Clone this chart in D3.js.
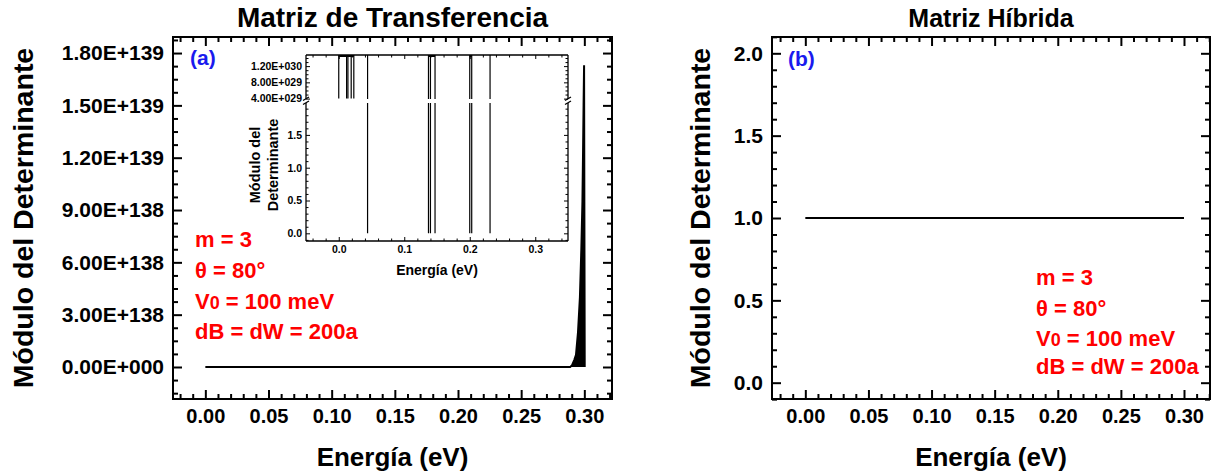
<!DOCTYPE html>
<html><head><meta charset="utf-8">
<script src="https://cdn.jsdelivr.net/npm/d3@7"></script>
<style>
html,body{margin:0;padding:0;background:#fff;}
svg{display:block;font-family:"Liberation Sans",Arial,sans-serif;font-weight:bold;}
</style></head><body>
<svg id="c" width="1213" height="475"></svg>
<script>
// ---------- data ----------
const titles = ["Matriz de Transferencia", "Matriz Híbrida"];
const panelLetters = ["(a)", "(b)"];
const xTitle = "Energía (eV)";
const yTitle = "Módulo del Determinante";
const annotLines = ["m = 3", "θ = 80°", "V|0| = 100 meV", "dB = dW = 200a"];

const xTicks = [0, 0.05, 0.10, 0.15, 0.20, 0.25, 0.30];
const xTickLabels = ["0.00", "0.05", "0.10", "0.15", "0.20", "0.25", "0.30"];
const yTicksA = [0, 3e138, 6e138, 9e138, 1.2e139, 1.5e139, 1.8e139];
const yTickLabelsA = ["0.00E+000", "3.00E+138", "6.00E+138", "9.00E+138", "1.20E+139", "1.50E+139", "1.80E+139"];
const yTicksB = [0, 0.5, 1.0, 1.5, 2.0];
const yTickLabelsB = ["0.0", "0.5", "1.0", "1.5", "2.0"];

// panel (a): transfer-matrix determinant modulus
const energyA = [0.000, 0.050, 0.100, 0.150, 0.200, 0.250, 0.2888, 0.2903, 0.2920, 0.2934, 0.2950, 0.2965, 0.2976, 0.2985, 0.2990, 0.2994, 0.2998, 0.3003];
const detA    = [1, 1, 1, 1, 1, 1, 1, 0.01e139, 0.04e139, 0.07e139, 0.20e139, 0.40e139, 0.67e139, 0.95e139, 1.24e139, 1.50e139, 1.73e139, 0];

// panel (b): hybrid-matrix determinant modulus
const energyB = [0.00, 0.05, 0.10, 0.15, 0.20, 0.25, 0.30];
const detB    = [1, 1, 1, 1, 1, 1, 1];

// inset of panel (a)
const insetXTicks = [0, 0.1, 0.2, 0.3];
const insetXTickLabels = ["0.0", "0.1", "0.2", "0.3"];
const insetYTicksLow = [0, 0.5, 1.0, 1.5];
const insetYTickLabelsLow = ["0.0", "0.5", "1.0", "1.5"];
const insetYTicksHigh = [4e29, 8e29, 1.2e30];
const insetYTickLabelsHigh = ["4.00E+029", "8.00E+029", "1.20E+030"];
const spikeE    = [0.000, 0.012, 0.014, 0.019, 0.023, 0.044, 0.137, 0.140, 0.147, 0.200, 0.203, 0.231];
const spikeLow  = [4e29, 4e29, 4e29, 4e29, 4e29, 0, 0, 0, 0, 0, 0, 0];
const spikeHigh = [2e30, 2e30, 2e30, 2e30, 2e30, 2e30, 2e30, 2e30, 2e30, 2e30, 2e30, 2e30];
const topRunStart = [0.000, 0.137, 0.200];
const topRunEnd   = [0.023, 0.147, 0.203];

// ---------- drawing ----------
const svg = d3.select("#c");

function minorValues(lo, hi, step, majors) {
  const out = [];
  const n = Math.round((hi - lo) / step);
  for (let i = 0; i <= n; i++) {
    const v = lo + i * step;
    if (!majors.some(m => Math.abs(m - v) < step * 1e-3)) out.push(v);
  }
  return out;
}

function drawPanel(opt) {
  const g = svg.append("g").attr("transform", `translate(${opt.left},${opt.top})`);
  const w = opt.width, h = opt.height;
  const x = d3.scaleLinear().domain(opt.xDomain).range([0, w]);
  const y = d3.scaleLinear().domain(opt.yDomain).range([h, 0]);

  const clipId = "clip" + opt.id;
  g.append("clipPath").attr("id", clipId).append("rect").attr("width", w).attr("height", h);

  const plot = g.append("g").attr("clip-path", `url(#${clipId})`);
  const pts = opt.xs.map((e, i) => [e, opt.ys[i]]);
  if (opt.fill) {
    plot.append("path").datum(pts)
      .attr("d", d3.area().x(d => x(d[0])).y0(y(0)).y1(d => y(d[1])))
      .attr("fill", "#000");
  }
  plot.append("path").datum(pts)
    .attr("d", d3.line().x(d => x(d[0])).y(d => y(d[1])))
    .attr("fill", "none").attr("stroke", "#000").attr("stroke-width", 2);

  const majLen = 9, minLen = 5;
  const xMinor = minorValues(-0.02, 0.32, 0.01, opt.xTicks);
  const yMinor = minorValues(opt.yMinorLo, opt.yMinorHi, opt.yMinorStep, opt.yTicks);

  function styleAxis(fs) {
    return sel => {
      sel.select(".domain").remove();
      sel.selectAll("line").attr("stroke", "#000").attr("stroke-width", 2);
      sel.selectAll("text").attr("fill", "#000").style("font-size", fs + "px")
        .style("font-weight", "bold").style("font-family", '"Liberation Sans",Arial,sans-serif');
    };
  }
  const sx = styleAxis(20), sy = styleAxis(opt.yTickFont);
  g.append("g").attr("transform", `translate(0,${h})`)
    .call(d3.axisBottom(x).tickValues(opt.xTicks).tickFormat((d, i) => opt.xTickLabels[i]).tickSize(-majLen).tickSizeOuter(0).tickPadding(10)).call(sx);
  g.append("g").attr("transform", `translate(0,${h})`)
    .call(d3.axisBottom(x).tickValues(xMinor).tickFormat("").tickSize(-minLen).tickSizeOuter(0)).call(sx);
  g.append("g").call(d3.axisTop(x).tickValues(opt.xTicks).tickFormat("").tickSize(-majLen).tickSizeOuter(0)).call(sx);
  g.append("g").call(d3.axisTop(x).tickValues(xMinor).tickFormat("").tickSize(-minLen).tickSizeOuter(0)).call(sx);
  g.append("g").call(d3.axisLeft(y).tickValues(opt.yTicks).tickFormat((d, i) => opt.yTickLabels[i]).tickSize(-majLen).tickSizeOuter(0).tickPadding(9)).call(sy);
  g.append("g").call(d3.axisLeft(y).tickValues(yMinor).tickFormat("").tickSize(-minLen).tickSizeOuter(0)).call(sy);
  g.append("g").attr("transform", `translate(${w},0)`)
    .call(d3.axisRight(y).tickValues(opt.yTicks).tickFormat("").tickSize(-majLen).tickSizeOuter(0)).call(sy);
  g.append("g").attr("transform", `translate(${w},0)`)
    .call(d3.axisRight(y).tickValues(yMinor).tickFormat("").tickSize(-minLen).tickSizeOuter(0)).call(sy);

  g.append("rect").attr("width", w).attr("height", h).attr("fill", "none")
    .attr("stroke", "#000").attr("stroke-width", 2);

  const tt = svg.append("text").attr("x", opt.left + w / 2).attr("y", 27).attr("text-anchor", "middle")
    .style("font-size", opt.titleFont + "px").text(opt.title);
  svg.append("text").attr("x", opt.left + w / 2).attr("y", 466).attr("text-anchor", "middle")
    .style("font-size", "26px").text(xTitle);
  svg.append("text").attr("transform", `translate(${opt.yTitleX},${opt.top + h / 2}) rotate(-90)`)
    .attr("text-anchor", "middle").style("font-size", "28.5px").text(yTitle);

  svg.append("text").attr("x", opt.letterX).attr("y", opt.letterY).attr("fill", "#1a1aee")
    .style("font-size", "21px").text(opt.letter);

  const ann = svg.append("g").attr("fill", "#ff0000").style("font-size", "22px");
  annotLines.forEach((s, i) => {
    const t = ann.append("text").attr("x", opt.annX).attr("y", opt.annY[i]);
    s.split("|").forEach((p, j) => {
      const ts = t.append("tspan").text(p);
      if (j === 1) ts.style("font-size", "18px");
    });
  });
  return { g, x, y };
}

drawPanel({
  id: "a", left: 173, top: 37, width: 439, height: 362,
  xDomain: [-0.0256, 0.3219], yDomain: [-0.1835e139, 1.892e139],
  xs: energyA, ys: detA, fill: true,
  xTicks, xTickLabels, yTicks: yTicksA, yTickLabels: yTickLabelsA, yTickFont: 21,
  yMinorLo: -0.15e139, yMinorHi: 1.875e139, yMinorStep: 0.075e139,
  title: titles[0], titleFont: 28, yTitleX: 33, letter: panelLetters[0], letterX: 190, letterY: 65,
  annX: 195, annY: [247, 278, 309, 339]
});

drawPanel({
  id: "b", left: 772, top: 37, width: 438, height: 362,
  xDomain: [-0.0264, 0.3206], yDomain: [-0.099, 2.099],
  xs: energyB, ys: detB, fill: false,
  xTicks, xTickLabels, yTicks: yTicksB, yTickLabels: yTickLabelsB, yTickFont: 21,
  yMinorLo: -0.1, yMinorHi: 2.1, yMinorStep: 0.1,
  title: titles[1], titleFont: 25, yTitleX: 710, letter: panelLetters[1], letterX: 788, letterY: 66,
  annX: 1036, annY: [285, 316, 346, 374]
});

// ---------- inset ----------
(function () {
  const L = 306, R = 568, T = 55, B = 241;
  const lowTop = 103, highBot = 99;
  const ig = svg.append("g");
  ig.append("rect").attr("x", L).attr("y", T).attr("width", R - L).attr("height", B - T).attr("fill", "#fff");
  const x = d3.scaleLinear().domain([-0.05, 0.35]).range([L, R]);
  const yLow = d3.scaleLinear().domain([-0.117, 1.986]).range([B, lowTop]);
  const yHigh = d3.scaleLinear().domain([3.9e29, 1.474e30]).range([highBot, T]);

  ig.append("clipPath").attr("id", "clipLow").append("rect")
    .attr("x", L).attr("y", lowTop).attr("width", R - L).attr("height", B - lowTop);
  ig.append("clipPath").attr("id", "clipHigh").append("rect")
    .attr("x", L).attr("y", T).attr("width", R - L).attr("height", highBot - T);

  const spikes = spikeE.map((e, i) => ({ e, lo: spikeLow[i], hi: spikeHigh[i] }));
  const gl = ig.append("g").attr("clip-path", "url(#clipLow)");
  gl.selectAll("line").data(spikes.filter(d => d.lo < 1.986)).join("line")
    .attr("x1", d => x(d.e)).attr("x2", d => x(d.e))
    .attr("y1", d => yLow(d.lo)).attr("y2", d => yLow(Math.min(d.hi, 5)))
    .attr("stroke", "#000").attr("stroke-width", 1.2);
  const gh = ig.append("g").attr("clip-path", "url(#clipHigh)");
  gh.selectAll("line").data(spikes).join("line")
    .attr("x1", d => x(d.e)).attr("x2", d => x(d.e))
    .attr("y1", d => yHigh(Math.max(d.lo, 3.9e29))).attr("y2", d => yHigh(d.hi))
    .attr("stroke", "#000").attr("stroke-width", 1.2);
  gh.selectAll("line.run").data(topRunStart.map((s, i) => [s, topRunEnd[i]])).join("line")
    .attr("class", "run")
    .attr("x1", d => x(d[0])).attr("x2", d => x(d[1]))
    .attr("y1", T + 1).attr("y2", T + 1).attr("stroke", "#000").attr("stroke-width", 2);

  const fs = "10.5px";
  function st(sel) {
    sel.select(".domain").remove();
    sel.selectAll("line").attr("stroke", "#000").attr("stroke-width", 1);
    sel.selectAll("text").attr("fill", "#000").style("font-size", fs).style("font-weight", "bold")
      .style("font-family", '"Liberation Sans",Arial,sans-serif');
  }
  const xMin = minorValues(-0.04, 0.34, 0.02, insetXTicks);
  const yLowMin = minorValues(-0.1, 1.9, 0.1, insetYTicksLow);
  const yHighMin = minorValues(4e29, 1.4e30, 1e29, insetYTicksHigh);

  ig.append("g").attr("transform", `translate(0,${B})`)
    .call(d3.axisBottom(x).tickValues(insetXTicks).tickFormat((d, i) => insetXTickLabels[i]).tickSize(-4).tickSizeOuter(0).tickPadding(5)).call(st);
  ig.append("g").attr("transform", `translate(0,${B})`)
    .call(d3.axisBottom(x).tickValues(xMin).tickFormat("").tickSize(-2.5).tickSizeOuter(0)).call(st);
  ig.append("g").attr("transform", `translate(0,${T})`)
    .call(d3.axisTop(x).tickValues(insetXTicks).tickFormat("").tickSize(-4).tickSizeOuter(0)).call(st);
  ig.append("g").attr("transform", `translate(0,${T})`)
    .call(d3.axisTop(x).tickValues(xMin).tickFormat("").tickSize(-2.5).tickSizeOuter(0)).call(st);

  [[yLow, insetYTicksLow, insetYTickLabelsLow, yLowMin], [yHigh, insetYTicksHigh, insetYTickLabelsHigh, yHighMin]].forEach(([ys, tv, tl, mn]) => {
    ig.append("g").attr("transform", `translate(${L},0)`)
      .call(d3.axisLeft(ys).tickValues(tv).tickFormat((d, i) => tl[i]).tickSize(-4).tickSizeOuter(0).tickPadding(4)).call(st);
    ig.append("g").attr("transform", `translate(${L},0)`)
      .call(d3.axisLeft(ys).tickValues(mn).tickFormat("").tickSize(-2.5).tickSizeOuter(0)).call(st);
    ig.append("g").attr("transform", `translate(${R},0)`)
      .call(d3.axisRight(ys).tickValues(tv).tickFormat("").tickSize(-4).tickSizeOuter(0)).call(st);
    ig.append("g").attr("transform", `translate(${R},0)`)
      .call(d3.axisRight(ys).tickValues(mn).tickFormat("").tickSize(-2.5).tickSizeOuter(0)).call(st);
  });

  const fr = ig.append("g").attr("stroke", "#000").attr("stroke-width", 1.3).attr("fill", "none");
  fr.append("line").attr("x1", L).attr("x2", R).attr("y1", T).attr("y2", T);
  fr.append("line").attr("x1", L).attr("x2", R).attr("y1", B).attr("y2", B);
  [L, R].forEach(xx => {
    fr.append("line").attr("x1", xx).attr("x2", xx).attr("y1", T).attr("y2", highBot);
    fr.append("line").attr("x1", xx).attr("x2", xx).attr("y1", lowTop).attr("y2", B);
    fr.append("line").attr("x1", xx - 3).attr("x2", xx + 3).attr("y1", highBot + 1.5).attr("y2", highBot - 2);
    fr.append("line").attr("x1", xx - 3).attr("x2", xx + 3).attr("y1", lowTop + 1.5).attr("y2", lowTop - 2);
  });

  ig.append("text").attr("x", (L + R) / 2).attr("y", 275).attr("text-anchor", "middle")
    .style("font-size", "14px").text(xTitle);
  const words = yTitle.split(" ");
  const lines = [words.slice(0, 2).join(" "), words.slice(2).join(" ")];
  ig.append("text").attr("transform", `translate(260,165) rotate(-90)`).attr("text-anchor", "middle")
    .style("font-size", "14.5px").text(lines[0]);
  ig.append("text").attr("transform", `translate(278,165) rotate(-90)`).attr("text-anchor", "middle")
    .style("font-size", "14.5px").text(lines[1]);
})();
</script>
</body></html>
